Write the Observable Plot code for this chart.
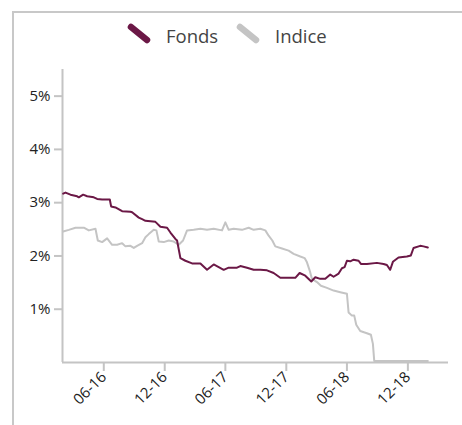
<!DOCTYPE html>
<html><head><meta charset="utf-8">
<script src="https://cdn.jsdelivr.net/npm/d3@7"></script>
<script src="https://cdn.jsdelivr.net/npm/@observablehq/plot@0.6"></script>
<style>
body{margin:0;background:#fff;font-family:"Open Sans",sans-serif;}
#wrap{position:relative;width:462px;height:425px;overflow:hidden;}
#frame{position:absolute;left:12px;top:11px;width:470px;height:430px;border-left:2px solid #c8c8c8;border-top:2px solid #c8c8c8;}
#legend{position:absolute;left:0;top:0;width:462px;height:60px;}
#chart{position:absolute;left:0;top:60px;}
</style>
</head><body>
<div id="wrap"><div id="frame"></div><div id="legend"></div><div id="chart"></div></div>
<script>
const seriesNames = ["Fonds", "Indice"];
const seriesColors = ["#6b1846", "#c4c4c4"];

const fondsDates = ["2016-01-31","2016-02-07","2016-02-22","2016-03-13","2016-03-18","2016-03-31","2016-04-12","2016-05-02","2016-05-12","2016-05-27","2016-06-19","2016-06-23","2016-07-06","2016-07-26","2016-08-20","2016-08-25","2016-09-14","2016-09-24","2016-10-04","2016-11-03","2016-11-18","2016-12-08","2016-12-18","2017-01-02","2017-01-07","2017-01-17","2017-02-01","2017-02-21","2017-03-18","2017-04-07","2017-04-27","2017-05-12","2017-05-27","2017-06-11","2017-07-06","2017-07-16","2017-08-05","2017-08-25","2017-09-14","2017-10-04","2017-10-24","2017-11-13","2017-12-28","2018-01-10","2018-01-27","2018-02-14","2018-02-26","2018-03-13","2018-03-28","2018-04-12","2018-04-22","2018-05-07","2018-05-17","2018-05-25","2018-06-01","2018-06-11","2018-06-21","2018-07-06","2018-07-13","2018-07-31","2018-08-30","2018-09-19","2018-09-29","2018-10-09","2018-10-17","2018-11-03","2018-11-28","2018-12-10","2018-12-18","2019-01-07","2019-01-17","2019-01-30"];
const fondsValues = [3.17,3.19,3.15,3.12,3.10,3.15,3.12,3.10,3.07,3.06,3.06,2.93,2.91,2.84,2.83,2.82,2.72,2.69,2.66,2.64,2.55,2.53,2.44,2.32,2.29,1.96,1.91,1.86,1.86,1.74,1.84,1.79,1.74,1.78,1.78,1.81,1.78,1.74,1.74,1.73,1.68,1.59,1.59,1.68,1.63,1.52,1.60,1.57,1.57,1.65,1.61,1.67,1.77,1.79,1.91,1.90,1.93,1.91,1.85,1.85,1.87,1.85,1.83,1.74,1.89,1.97,1.99,2.01,2.15,2.19,2.18,2.16];

const indiceDates = ["2016-01-31","2016-02-17","2016-03-08","2016-04-02","2016-04-17","2016-05-07","2016-05-14","2016-05-27","2016-06-11","2016-06-26","2016-07-11","2016-07-26","2016-08-05","2016-08-20","2016-08-30","2016-09-09","2016-09-24","2016-10-04","2016-10-14","2016-10-29","2016-11-06","2016-11-13","2016-11-28","2016-12-13","2016-12-28","2017-01-12","2017-01-25","2017-02-06","2017-02-26","2017-03-18","2017-04-07","2017-04-27","2017-05-22","2017-06-01","2017-06-11","2017-06-26","2017-07-21","2017-08-10","2017-08-25","2017-09-14","2017-09-29","2017-10-09","2017-10-20","2017-10-29","2017-11-18","2017-12-08","2017-12-23","2018-01-12","2018-01-25","2018-02-01","2018-02-09","2018-02-16","2018-03-03","2018-03-15","2018-04-02","2018-04-22","2018-05-12","2018-06-01","2018-06-06","2018-06-16","2018-06-23","2018-06-29","2018-07-11","2018-07-31","2018-08-12","2018-08-18","2018-08-22","2018-08-30","2019-01-30"];
const indiceValues = [2.46,2.49,2.53,2.53,2.48,2.51,2.29,2.26,2.33,2.21,2.21,2.24,2.18,2.19,2.15,2.19,2.24,2.35,2.41,2.49,2.48,2.27,2.26,2.29,2.27,2.21,2.29,2.48,2.49,2.51,2.49,2.51,2.48,2.63,2.49,2.51,2.49,2.53,2.49,2.51,2.48,2.38,2.29,2.18,2.14,2.10,2.04,1.99,1.96,1.88,1.73,1.57,1.51,1.44,1.40,1.35,1.32,1.29,0.94,0.88,0.88,0.71,0.59,0.55,0.52,0.35,0.03,0.03,0.03];

const xTickDates = ["2016-06-01","2016-12-01","2017-06-01","2017-12-01","2018-06-01","2018-12-01"];
const yTicks = [1, 2, 3, 4, 5];
const xDomain = ["2016-01-29", "2019-04-02"];
const yDomain = [0, 5.5];

const parse = d3.utcParse("%Y-%m-%d");
const fonds = fondsDates.map((d, i) => ({date: parse(d), value: fondsValues[i], series: "Fonds"}));
const indice = indiceDates.map((d, i) => ({date: parse(d), value: indiceValues[i], series: "Indice"}));

// Legend
const lg = d3.select("#legend").append("svg").attr("width", 462).attr("height", 60);
const legendX = [131, 240];
seriesNames.forEach((name, i) => {
  const x = legendX[i];
  lg.append("line").attr("x1", x).attr("y1", 27).attr("x2", x + 16).attr("y2", 40)
    .attr("stroke", seriesColors[i]).attr("stroke-width", 6.5).attr("stroke-linecap", "round");
  lg.append("text").attr("x", x + 35).attr("y", 43).text(name)
    .attr("font-family", "'Open Sans', sans-serif").attr("font-size", 18.5).attr("fill", "#444");
});

const axisColor = "#c4c4c4";
const chart = Plot.plot({
  width: 462,
  height: 365,
  marginLeft: 62,
  marginRight: 14,
  marginTop: 9,
  marginBottom: 63,
  style: {fontFamily: "'Open Sans', sans-serif", color: "#222", background: "transparent", overflow: "visible"},
  x: {type: "utc", domain: xDomain.map(parse)},
  y: {domain: yDomain},
  marks: [
    Plot.ruleY([0], {stroke: axisColor, strokeWidth: 2}),
    Plot.ruleX([parse(xDomain[0])], {y1: yDomain[0], y2: yDomain[1], stroke: axisColor, strokeWidth: 2}),
    Plot.axisY({ticks: yTicks, tickFormat: d => d + "%", tickSize: 8, tickPadding: 4, stroke: axisColor, strokeWidth: 2, strokeOpacity: 1, label: null, fill: "#222"}),
    Plot.axisX({ticks: xTickDates.map(parse), tickFormat: d3.utcFormat("%m-%y"), tickSize: 9, tickPadding: 3, tickRotate: -45, stroke: axisColor, strokeWidth: 2, strokeOpacity: 1, label: null, fill: "#222"}),
    Plot.line(indice, {x: "date", y: "value", stroke: seriesColors[1], strokeWidth: 2}),
    Plot.line(fonds, {x: "date", y: "value", stroke: seriesColors[0], strokeWidth: 2})
  ]
});
d3.select(chart).selectAll("g[aria-label$='tick label']").attr("font-size", null).style("font-size", "15px");
d3.select(chart).selectAll("g[aria-label$='tick label'] text").style("font-size", "15px");
document.getElementById("chart").appendChild(chart);
</script>
</body></html>
